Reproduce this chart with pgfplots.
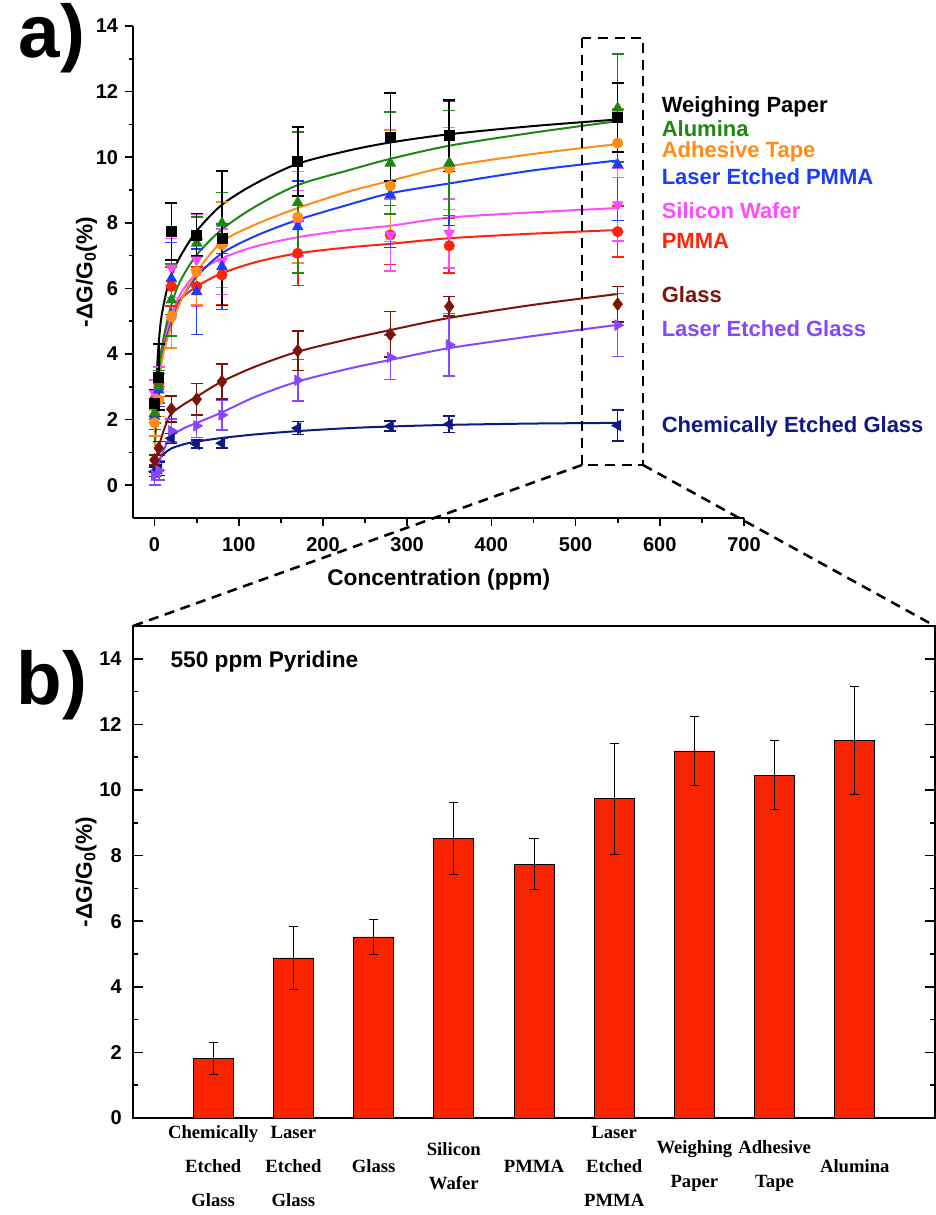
\documentclass[border=0pt]{standalone}
\usepackage{fontspec}
\setmainfont{Liberation Sans}
\newfontfamily\timesf{Liberation Serif}
\usepackage{pgfplots}
\pgfplotsset{compat=1.18}
\usepackage{pgfplotstable}

\definecolor{cWP}{RGB}{0,0,0}
\definecolor{cAL}{RGB}{30,135,20}
\definecolor{cAT}{RGB}{255,140,20}
\definecolor{cLP}{RGB}{25,60,255}
\definecolor{cSW}{RGB}{255,75,255}
\definecolor{cPM}{RGB}{255,35,10}
\definecolor{cGL}{RGB}{125,20,10}
\definecolor{cLG}{RGB}{135,70,255}
\definecolor{cCG}{RGB}{15,25,130}
\definecolor{cBar}{RGB}{250,35,0}

% x y err
\pgfplotstableread{
x y e
0 2.5 0.4
5 3.3 1.0
20 7.73 0.87
50 7.63 0.65
80 7.53 2.05
170 9.87 1.05
280 10.61 1.34
350 10.66 1.09
550 11.21 1.05
}\tWP
\pgfplotstableread{
x y e
0 2.2 0.3
5 3.0 0.5
20 5.65 1.1
50 7.38 0.8
80 7.99 0.93
170 8.62 2.15
280 9.82 1.55
350 9.82 1.6
550 11.5 1.64
}\tAL
\pgfplotstableread{
x y e
0 1.9 0.4
5 2.6 0.5
20 5.14 0.95
50 6.51 1.0
80 7.33 1.3
170 8.17 1.4
280 9.13 1.7
350 9.66 1.25
550 10.43 1.05
}\tAT
\pgfplotstableread{
x y e
0 2.1 0.4
5 2.9 0.5
20 6.3 1.1
50 5.9 1.3
80 6.66 1.3
170 7.88 1.4
280 8.85 1.6
350 9.82 1.9
550 9.77 1.7
}\tLP
\pgfplotstableread{
x y e
0 2.8 0.4
5 3.3 0.3
20 6.62 0.9
50 6.87 1.4
80 6.82 1.0
170 7.99 1.0
280 7.63 1.1
350 7.68 1.05
550 8.55 1.1
}\tSW
\pgfplotstableread{
x y e
0 2.6 0.3
5 3.1 0.4
20 6.06 0.6
50 6.06 0.6
80 6.41 0.9
170 7.07 0.98
280 7.63 0.9
350 7.30 0.83
550 7.73 0.78
}\tPM
\pgfplotstableread{
x y e
0 0.77 0.15
5 1.13 0.2
20 2.32 0.4
50 2.62 0.48
80 3.16 0.53
170 4.10 0.6
280 4.60 0.7
350 5.45 0.3
550 5.52 0.54
}\tGL
\pgfplotstableread{
x y e
0 0.3 0.3
5 0.45 0.3
20 1.66 0.35
50 1.81 0.35
80 2.14 0.45
170 3.20 0.63
280 3.90 0.68
350 4.28 0.95
550 4.88 0.96
}\tLG
\pgfplotstableread{
x y e
0 0.41 0.15
5 0.5 0.2
20 1.43 0.15
50 1.25 0.12
80 1.28 0.15
170 1.74 0.2
280 1.80 0.15
350 1.86 0.25
550 1.82 0.48
}\tCG
\pgfplotstableread{
x y e
1 1.82 0.48
2 4.88 0.96
3 5.52 0.54
4 8.53 1.10
5 7.74 0.78
6 9.73 1.70
7 11.19 1.05
8 10.45 1.05
9 11.51 1.64
}\tBar

\pgfplotsset{
  ser/.style={only marks, color=#1, mark size=3.9pt,
    mark options={fill=#1, draw=#1, line width=0.5pt},
    error bars/y dir=both, error bars/y explicit,
    error bars/error bar style={line width=1.2pt, color=#1},
    error bars/error mark options={line width=1.2pt, mark size=4.5pt, color=#1, rotate=90}},
  fit/.style={color=#1, line width=1.5pt, smooth, no markers},
}

\begin{document}
\begin{tikzpicture}
\useasboundingbox (0,0) rectangle (702pt,-911.25pt);

\begin{axis}[
  at={(100.125pt,-388.5pt)}, anchor=south west,
  scale only axis, width=457.875pt, height=369pt,
  xmin=-25, xmax=700, ymin=-1, ymax=14,
  axis x line*=bottom, axis y line*=left,
  axis line style={line width=1.5pt},
  xtick={0,100,...,700}, minor xtick={50,150,...,650},
  ytick={0,2,...,14}, minor ytick={1,3,...,13},
  tick align=outside, major tick length=6pt, minor tick length=3.5pt,
  every tick/.style={line width=1.3pt, black},
  /pgf/number format/assume math mode=true,
  ticklabel style={font=\fontsize{15}{18}\selectfont\bfseries},
  xticklabel style={anchor=center, yshift=-14pt},
  yticklabel style={anchor=east, xshift=-2pt},
  xlabel={Concentration (ppm)},
  xlabel style={font=\fontsize{17}{20}\selectfont\bfseries, at={(axis description cs:0.5,0)}, anchor=center, yshift=-46.5pt},
  ylabel={-ΔG/G\textsubscript{0}(\%)},
  ylabel style={font=\fontsize{17}{20}\selectfont\bfseries, at={(axis description cs:-0.077,0.5)}, anchor=center, rotate=0},
  clip=false,
]
\addplot[fit=cCG] coordinates {(0,0.35)(2,0.55)(5,0.75)(10,0.93)(20,1.12)(35,1.25)(50,1.33)(80,1.44)(120,1.55)(170,1.65)(230,1.74)(280,1.79)(350,1.84)(450,1.88)(550,1.9)};
\addplot[fit=cLG] coordinates {(0,0.15)(2,0.4)(5,0.67)(10,1.02)(15,1.3)(20,1.5)(35,1.74)(50,1.9)(80,2.22)(120,2.7)(170,3.16)(230,3.55)(280,3.82)(350,4.18)(450,4.55)(550,4.89)};
\addplot[fit=cGL] coordinates {(0,0.5)(2,0.8)(5,1.18)(10,1.6)(15,1.95)(20,2.19)(35,2.47)(50,2.7)(80,3.16)(120,3.62)(170,4.07)(230,4.45)(280,4.73)(350,5.1)(450,5.5)(550,5.83)};
\addplot[fit=cPM] coordinates {(0.5,1.5)(1,1.9)(2,2.5)(4,3.2)(7,3.9)(10,4.35)(15,4.85)(20,5.24)(30,5.65)(50,6.06)(80,6.46)(120,6.8)(170,7.07)(230,7.25)(280,7.36)(350,7.53)(450,7.67)(550,7.78)};
\addplot[fit=cSW] coordinates {(0.5,1.4)(1,1.8)(2,2.4)(4,3.1)(7,3.8)(10,4.25)(15,4.75)(20,5.15)(30,5.8)(50,6.46)(80,6.92)(120,7.28)(170,7.56)(230,7.78)(280,7.91)(350,8.16)(450,8.32)(550,8.45)};
\addplot[fit=cLP] coordinates {(0.5,1.3)(1,1.7)(2,2.2)(4,2.9)(7,3.6)(10,4.05)(15,4.55)(20,4.95)(30,5.6)(50,6.36)(80,7.07)(120,7.6)(170,8.09)(230,8.55)(280,8.9)(350,9.2)(450,9.6)(550,9.9)};
\addplot[fit=cAT] coordinates {(0.5,1.2)(1,1.6)(2,2.1)(4,2.8)(7,3.5)(10,3.95)(15,4.45)(20,4.85)(30,5.55)(50,6.5)(80,7.42)(120,7.95)(170,8.45)(230,8.95)(280,9.28)(350,9.72)(450,10.1)(550,10.4)};
\addplot[fit=cAL] coordinates {(0.5,1.3)(1,1.7)(2,2.3)(4,3.1)(7,3.9)(10,4.4)(15,5.0)(20,5.5)(30,6.2)(50,7.02)(80,7.8)(120,8.5)(170,9.15)(230,9.6)(280,9.95)(350,10.35)(450,10.75)(550,11.1)};
\addplot[fit=cWP] coordinates {(0.5,1.6)(1,2.2)(2,3.0)(4,4.0)(7,4.9)(10,5.4)(15,6.0)(20,6.4)(30,6.95)(50,7.75)(80,8.55)(120,9.2)(170,9.8)(230,10.2)(280,10.45)(350,10.7)(450,10.95)(550,11.15)};

\addplot[ser=cCG, mark=triangle*, mark size=4.6pt, mark options={rotate=90}] table[x=x,y=y,y error=e]{\tCG};
\addplot[ser=cLG, mark=triangle*, mark size=4.6pt, mark options={rotate=-90}] table[x=x,y=y,y error=e]{\tLG};
\addplot[ser=cGL, mark=diamond*, mark size=4.8pt] table[x=x,y=y,y error=e]{\tGL};
\addplot[ser=cPM, mark=*] table[x=x,y=y,y error=e]{\tPM};
\addplot[ser=cSW, mark=triangle*, mark size=4.6pt, mark options={rotate=180}] table[x=x,y=y,y error=e]{\tSW};
\addplot[ser=cLP, mark=triangle*, mark size=4.6pt] table[x=x,y=y,y error=e]{\tLP};
\addplot[ser=cAT, mark=*] table[x=x,y=y,y error=e]{\tAT};
\addplot[ser=cAL, mark=triangle*, mark size=4.6pt] table[x=x,y=y,y error=e]{\tAL};
\addplot[ser=cWP, mark=square*, mark size=3.7pt] table[x=x,y=y,y error=e]{\tWP};

\begin{scope}[font=\fontsize{16.5}{19}\selectfont\bfseries]
\node[anchor=base west, text=cWP] at (axis cs:596.8,11.375) {Weighing Paper};
\node[anchor=base west, text=cAL] at (axis cs:596.8,10.64) {Alumina};
\node[anchor=base west, text=cAT] at (axis cs:596.8,10.0) {Adhesive Tape};
\node[anchor=base west, text=cLP] at (axis cs:596.8,9.16) {Laser Etched PMMA};
\node[anchor=base west, text=cSW] at (axis cs:596.8,8.12) {Silicon Wafer};
\node[anchor=base west, text=cPM] at (axis cs:596.8,7.21) {PMMA};
\node[anchor=base west, text=cGL] at (axis cs:596.8,5.58) {Glass};
\node[anchor=base west, text=cLG] at (axis cs:596.8,4.54) {Laser Etched Glass};
\node[anchor=base west, text=cCG] at (axis cs:596.8,1.62) {Chemically Etched Glass};
\end{scope}
\end{axis}

\begin{axis}[
  at={(99.75pt,-838.5pt)}, anchor=south west,
  scale only axis, width=601.5pt, height=369pt,
  xmin=0, xmax=10, ymin=0, ymax=15,
  axis line style={line width=1.5pt},
  xtick={1,...,9},
  xticklabels={Chemically\\Etched\\Glass, Laser\\Etched\\Glass, Glass, Silicon\\Wafer, PMMA, Laser\\Etched\\PMMA, Weighing\\Paper, Adhesive\\Tape, Alumina},
  major x tick style={draw=none},
  xticklabel style={font=\timesf\bfseries\fontsize{14}{25.5}\selectfont, align=center, anchor=center, yshift=-36pt},
  ytick={0,2,...,14}, minor ytick={1,3,...,13},
  tick align=inside, major tick length=7.5pt, minor tick length=3.75pt,
  every tick/.style={line width=1.3pt, black},
  /pgf/number format/assume math mode=true,
  yticklabel style={font=\fontsize{15}{18}\selectfont\bfseries, anchor=east, xshift=-5pt},
  ylabel={-ΔG/G\textsubscript{0}(\%)},
  ylabel style={font=\fontsize{17}{20}\selectfont\bfseries, at={(axis description cs:-0.0586,0.5)}, anchor=center},
  clip=false,
]
\addplot[ybar, bar width=30pt, fill=cBar, draw=black, line width=0.6pt,
  error bars/.cd, y dir=both, y explicit,
  error bar style={line width=0.7pt, black},
  error mark options={line width=0.7pt, mark size=3.5pt, black, rotate=90}]
  table[x=x,y=y,y error=e]{\tBar};
\node[anchor=west, font=\fontsize{17}{20}\selectfont\bfseries] at (axis description cs:0.041,0.927) {550 ppm Pyridine};
\end{axis}

\begin{scope}[dash pattern=on 7.5pt off 5pt, line width=1.9pt]
\draw (436.5pt,-28.5pt) rectangle (482.25pt,-348.75pt);
\draw (436.5pt,-348.75pt) -- (99.75pt,-469.5pt);
\draw (482.25pt,-348.75pt) -- (701.25pt,-469.5pt);
\end{scope}

\node[font=\fontsize{56}{60}\selectfont\bfseries] at (39pt,-29pt) {a)};
\node[font=\fontsize{56}{60}\selectfont\bfseries] at (39pt,-514pt) {b)};
\end{tikzpicture}
\end{document}
